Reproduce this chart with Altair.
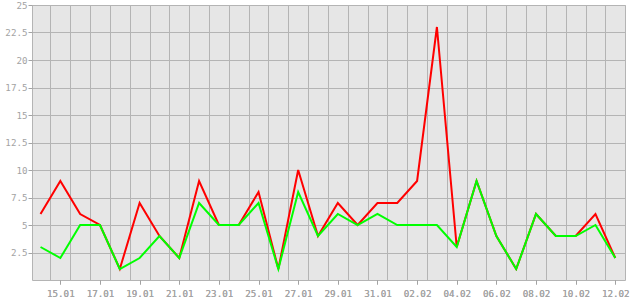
import altair as alt
import pandas as pd

days = ["14.01", "15.01", "16.01", "17.01", "18.01", "19.01", "20.01", "21.01",
        "22.01", "23.01", "24.01", "25.01", "26.01", "27.01", "28.01", "29.01",
        "30.01", "31.01", "01.02", "02.02", "03.02", "04.02", "05.02", "06.02",
        "07.02", "08.02", "09.02", "10.02", "11.02", "12.02"]
red_values = [6, 9, 6, 5, 1, 7, 4, 2, 9, 5, 5, 8, 1, 10, 4, 7, 5, 7, 7, 9,
              23, 3, 9, 4, 1, 6, 4, 4, 6, 2]
green_values = [3, 2, 5, 5, 1, 2, 4, 2, 7, 5, 5, 7, 1, 8, 4, 6, 5, 6, 5, 5,
                5, 3, 9, 4, 1, 6, 4, 4, 5, 2]
y_ticks = [2.5, 5, 7.5, 10, 12.5, 15, 17.5, 20, 22.5, 25]

n = len(days)
df = pd.DataFrame({
    "i": list(range(n)),
    "day": days,
    "red": red_values,
    "green": green_values,
})

label_idx = [i for i in range(n) if i % 2 == 1]
grid_idx = [i + 0.5 for i in range(n - 1)]
days_js = "[" + ",".join("'" + d + "'" for d in days) + "]"

FONT = "DejaVu Sans Mono"
GRID = "#b4b4b4"
TXT = "#a3a3a3"

xscale = alt.Scale(domain=[-0.43, n - 1 + 0.49], nice=False, zero=False)
yscale = alt.Scale(domain=[0, 25], nice=False)

x_label_axis = alt.Axis(
    values=label_idx, labelExpr=days_js + "[datum.value]", grid=False,
    domain=False, ticks=True, tickSize=4, tickColor=TXT, labelColor=TXT,
    labelFont=FONT, labelFontSize=9.2, labelFontWeight="normal",
    labelPadding=5, title=None,
    orient="bottom", labelFlush=False, labelOverlap=False,
)
x_grid_axis = alt.Axis(
    values=grid_idx, grid=True, gridColor=GRID, gridOpacity=1, gridWidth=1,
    labels=False, ticks=False, domain=False, title=None, orient="bottom",
)
y_axis = alt.Axis(
    values=y_ticks, labelExpr="format(datum.value, '~g')", grid=True,
    gridColor=GRID, gridOpacity=1, gridWidth=1, domain=False, tickSize=4,
    tickColor=TXT, labelColor=TXT, labelFont=FONT, labelFontSize=9.2,
    labelFontWeight="normal",
    labelPadding=1, title=None, labelFlush=False,
)

grid_layer = alt.Chart(df).mark_line(opacity=0).encode(
    x=alt.X("i:Q", scale=xscale, axis=x_grid_axis),
    y=alt.Y("green:Q", scale=yscale, axis=y_axis),
)
red_layer = alt.Chart(df).mark_line(color="#ff0000", strokeWidth=2).encode(
    x=alt.X("i:Q", scale=xscale, axis=x_label_axis),
    y=alt.Y("red:Q", scale=yscale, axis=y_axis),
)
green_layer = alt.Chart(df).mark_line(color="#00ff00", strokeWidth=2).encode(
    x=alt.X("i:Q", scale=xscale, axis=x_label_axis),
    y=alt.Y("green:Q", scale=yscale, axis=y_axis),
)

chart = alt.layer(grid_layer, red_layer, green_layer).resolve_axis(
    x="independent"
).properties(
    width=593, height=275,
    autosize=alt.AutoSizeParams(type="none"),
    padding={"left": 32, "top": 5, "right": 5, "bottom": 20},
    background="#ffffff",
).configure_view(
    fill="#e6e6e6", stroke=GRID, strokeWidth=1,
)

chart.save("out.html", embed_options={"renderer": "svg", "actions": False})
